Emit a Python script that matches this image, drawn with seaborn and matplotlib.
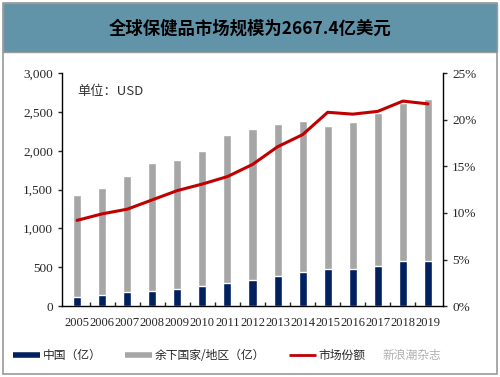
import numpy as np
import pandas as pd
import matplotlib.pyplot as plt
import seaborn as sns
from matplotlib.lines import Line2D
from matplotlib.patches import Rectangle
from matplotlib.ticker import FuncFormatter

years = ['2005', '2006', '2007', '2008', '2009', '2010', '2011', '2012',
         '2013', '2014', '2015', '2016', '2017', '2018', '2019']
total = [1430, 1520, 1680, 1840, 1880, 2000, 2200, 2280,
         2350, 2390, 2315, 2370, 2490, 2610, 2667.4]
china = [116, 142, 180, 193, 219, 258, 300, 339,
         390, 433, 472, 472, 511, 575, 575]
share = [9.2, 9.9, 10.4, 11.4, 12.4, 13.1, 13.9, 15.2,
         17.1, 18.4, 20.8, 20.6, 20.9, 22.0, 21.7]

df = pd.DataFrame({'year': years, 'total': total, 'china': china, 'share': share})

sns.set_style('white')
plt.rcParams['font.family'] = ['Liberation Serif', 'Noto Sans CJK SC']
cjk = ['Noto Sans CJK SC', 'DejaVu Sans']

fig = plt.figure(figsize=(5, 3.77), dpi=100)

# outer frame and title band
fig.patches.append(Rectangle((0.006, 0.008), 0.988, 0.984, transform=fig.transFigure,
                             fill=False, edgecolor='#9a9a9a', lw=1.2))
fig.patches.append(Rectangle((0.006, 0.862), 0.988, 0.130, transform=fig.transFigure,
                             facecolor='#6294a9', edgecolor='#9a9a9a', lw=1.0))
fig.text(0.5, 0.925, '全球保健品市场规模为2667.4亿美元', ha='center', va='center',
         fontsize=12.5, fontweight='bold', family=cjk, color='black')

ax = fig.add_axes([0.124, 0.188, 0.762, 0.618])
sns.barplot(data=df, x='year', y='total', color='#a6a6a6', width=0.32,
            saturation=1, ax=ax)
sns.barplot(data=df, x='year', y='china', color='#002060', width=0.32,
            saturation=1, ax=ax)
ax.set_ylim(0, 3000)
ax.set_xlim(-0.6, len(years) - 0.4)
ax.set_yticks(range(0, 3001, 500))
ax.yaxis.set_major_formatter(FuncFormatter(lambda v, p: f'{int(v):,}'))
ax.set_xlabel('')
ax.set_ylabel('')
ax.tick_params(axis='y', labelsize=9.5, length=3, direction='out', left=True, width=1)
ax.tick_params(axis='x', labelsize=9, length=0, pad=8)
# small tick marks between categories
ax.set_xticks(np.arange(len(years) - 1) + 0.5, minor=True)
ax.tick_params(axis='x', which='minor', length=3, direction='in', bottom=True, width=1)
for s in ['left', 'bottom']:
    ax.spines[s].set_color('black')
    ax.spines[s].set_linewidth(1)
ax.spines['top'].set_visible(False)
ax.spines['right'].set_visible(False)
ax.text(0.04, 0.95, '单位：USD', transform=ax.transAxes, fontsize=9.5,
        family=cjk, color='#333333', va='top')

ax2 = ax.twinx()
sns.lineplot(x=np.arange(len(years)), y=df['share'], color='#c00000', lw=2.2, ax=ax2)
ax2.set_ylim(0, 25)
ax2.set_yticks(range(0, 26, 5))
ax2.yaxis.set_major_formatter(FuncFormatter(lambda v, p: f'{int(v)}%'))
ax2.set_ylabel('')
ax2.tick_params(axis='y', labelsize=9.5, length=3, direction='out', right=True, width=1)
ax2.spines['right'].set_color('black')
ax2.spines['right'].set_linewidth(1)
ax2.spines['top'].set_visible(False)
ax2.spines['left'].set_visible(False)
ax2.spines['bottom'].set_visible(False)

handles = [Line2D([], [], color='#002060', lw=4, solid_capstyle='butt'),
           Line2D([], [], color='#a6a6a6', lw=4, solid_capstyle='butt'),
           Line2D([], [], color='#c00000', lw=2, solid_capstyle='butt')]
labels = ['中国（亿）', '余下国家/地区（亿）', '市场份额']
fig.legend(handles, labels, loc='center left', bbox_to_anchor=(0.005, 0.058), ncol=3,
           frameon=False, prop={'family': cjk, 'size': 8.5}, handlelength=2.3,
           columnspacing=2.0, handletextpad=0.2)
# watermark
fig.text(0.765, 0.058, '新浪潮杂志', ha='left', va='center', fontsize=8.5,
         family=cjk, color='#b0b0b0')

plt.savefig('out.png', dpi=100)
